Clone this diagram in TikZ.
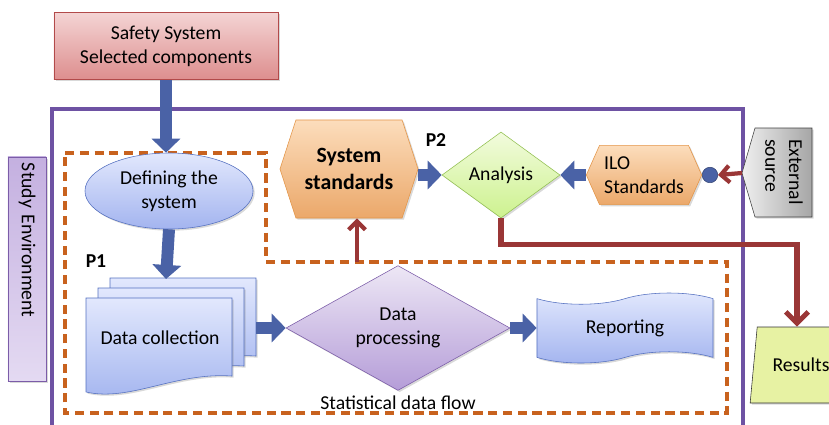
\documentclass[tikz,border=0pt]{standalone}
\usepackage{fontspec}
\setmainfont{Carlito}
\usetikzlibrary{arrows.meta, positioning, shapes.geometric, shapes.symbols, shadows, calc}

\definecolor{framepurple}{HTML}{6E52A3}
\definecolor{dashorange}{HTML}{C8621E}
\definecolor{arrowblue}{HTML}{4A62A6}
\definecolor{arrowred}{HTML}{9A3636}
\definecolor{safetop}{HTML}{F4D4D4}
\definecolor{safebot}{HTML}{DD8E8E}
\definecolor{safeline}{HTML}{B24A4A}
\definecolor{bluetop}{HTML}{E2E8FD}
\definecolor{bluebot}{HTML}{A3B4EF}
\definecolor{blueline}{HTML}{5470C0}
\definecolor{proctop}{HTML}{EDE7F5}
\definecolor{procbot}{HTML}{B59DD8}
\definecolor{procline}{HTML}{7B5CA8}
\definecolor{hextop}{HTML}{FCDDBC}
\definecolor{hexbot}{HTML}{EBA86A}
\definecolor{hexline}{HTML}{E39548}
\definecolor{greentop}{HTML}{F2FBDD}
\definecolor{greenbot}{HTML}{CDF28F}
\definecolor{greenline}{HTML}{93C052}
\definecolor{studylight}{HTML}{E4DAF2}
\definecolor{studydark}{HTML}{C4B0E0}
\definecolor{resultfill}{HTML}{E7F2A3}

\begin{document}
\begin{tikzpicture}[x=0.025cm, y=-0.025cm, font=\fontsize{14}{17}\selectfont,
    shade/.style={drop shadow={shadow xshift=1.2pt, shadow yshift=-1.2pt, opacity=0.3}},
    safebox/.style={rectangle, draw=safeline, top color=safetop, bottom color=safebot,
        minimum width=5.6cm, minimum height=1.68cm, align=center, shade},
    bluebox/.style={draw=blueline, top color=bluetop, bottom color=bluebot, shade},
    hexbox/.style={signal, signal to=west and east, draw=hexline, top color=hextop,
        bottom color=hexbot, shade},
    blockarrow/.style={arrowblue, line width=8.5pt, -{Triangle[width=20pt, length=10pt]}},
    redarrow/.style={arrowred, line width=3pt, -{Straight Barb[length=6pt, width=12pt]}},
    plabel/.style={font=\fontsize{14}{17}\selectfont\bfseries}]
    \clip (0,0) rectangle (829,424);
    % study frame and dashed boundary
    \draw[framepurple, line width=2.2pt] (52,109) rectangle (743,460);
    \draw[dashorange, line width=2.2pt, dash pattern=on 6.5pt off 4pt]
        (65,153) -- (266,153) -- (266,262) -- (727,262) -- (727,413) -- (65,413) -- cycle;
    \coordinate (gate) at (357,262);
    % side label
    \node[rectangle, rotate=-90, draw=procline, top color=studydark, bottom color=studylight,
        minimum width=5.6cm, minimum height=0.95cm, text width=5.3cm, align=left, shade] (study) at (27,269) {Study Environment};
    % input
    \node[safebox] (safety) at (166,46) {Safety System\\Selected components};
    \node[bluebox, ellipse, minimum width=4.2cm, minimum height=1.9cm, align=center] (define) at (169,191) {Defining the\\system};
    \node[plabel] (p1) at (96,261) {P1};
    % stacked data sheets
    \foreach \dx/\dy in {24/-20, 12/-10, 0/0} {
        \draw[bluebox, shift={(\dx,\dy)}] (86,298) -- (232,298) -- (232,376)
            .. controls (175,372) and (130,402) .. (86,392) -- cycle;
    }
    \node (collect) at (160,338) {Data collection};
    \coordinate (stacktop) at (166,279);
    \coordinate (stackR) at (256,328);
    \node[diamond, draw=procline, top color=proctop, bottom color=procbot, shade,
        minimum width=5.6cm, minimum height=3cm, inner sep=0pt, align=center] (proc) at (398,328) {Data\\processing};
    \node[below=0pt of proc] (statflow) {Statistical data flow};
    \node[bluebox, tape, tape bend height=8pt, minimum width=4.4cm, minimum height=1.75cm] (report) at (625,328) {Reporting};
    % standards and analysis
    \node[hexbox, signal pointer angle=144, minimum width=3.45cm, minimum height=2.45cm, align=center,
        font=\fontsize{15.5}{19}\selectfont\bfseries] (sysstd) at (349,169) {System\\standards};
    \node[plabel] (p2) at (436,140) {P2};
    \node[diamond, draw=greenline, top color=greentop, bottom color=greenbot, shade,
        minimum width=2.95cm, minimum height=2.15cm, inner sep=0pt] (analysis) at (501,175) {Analysis};
    \node[hexbox, signal pointer angle=132, minimum width=2.8cm, minimum height=1.48cm, align=left] (ilo) at (644,175) {ILO\\Standards};
    \node[circle, fill=arrowblue, draw=arrowblue!70!black, inner sep=0pt, minimum size=11pt, right=0pt of ilo.east] (dot) {};
    % external source tag
    \draw[draw=black!75, left color=black!6, right color=black!35, shade]
        (742,173) -- (755,128) -- (812,128) -- (812,217) -- (755,217) -- cycle;
    \coordinate (exttip) at (742,173);
    \node[rotate=-90, align=left] (external) at (784,172) {External\\source};
    \node[trapezium, trapezium left angle=77, trapezium right angle=103, trapezium stretches=true, draw=black!80,
        fill=resultfill, minimum height=1.9cm, minimum width=2.55cm, shade] (results) at (801,365) {Results};
    % flow arrows
    \draw[blockarrow] (safety.south) -- (safety.south |- define.north);
    \draw[blockarrow] (define.south) -- (stacktop);
    \draw[blockarrow] (stackR) -- (proc.west);
    \draw[blockarrow] (proc.east) -- (report.west);
    \draw[blockarrow] (analysis.west -| sysstd.east) -- (analysis.west);
    \draw[blockarrow] (ilo.west) -- (analysis.east);
    \draw[redarrow] (gate) -- (gate |- sysstd.south);
    \draw[redarrow] (exttip) -- (dot.east);
    \draw[redarrow, line width=3.6pt, -{Straight Barb[length=8pt, width=16pt]}]
        (analysis.south) -- ++(0,26) -| ($(results.north)+(-4,0)$);
\end{tikzpicture}
\end{document}
